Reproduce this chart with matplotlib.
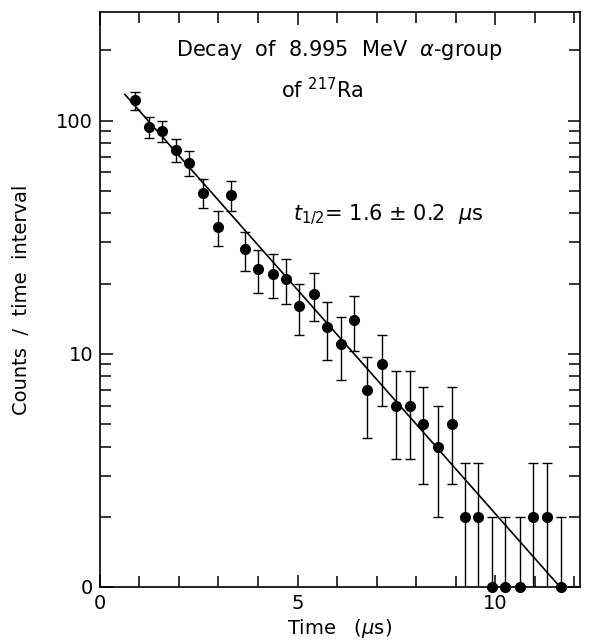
import numpy as np
import matplotlib
matplotlib.use("Agg")
import matplotlib.pyplot as plt
from matplotlib.ticker import FixedLocator, NullFormatter

# channel times (microseconds) and counts
times = [0.89, 1.23, 1.58, 1.92, 2.26, 2.62, 2.98, 3.32, 3.66, 4.00, 4.37,
         4.71, 5.04, 5.41, 5.75, 6.09, 6.43, 6.77, 7.13, 7.49, 7.85, 8.18,
         8.55, 8.91, 9.24, 9.58, 9.92, 10.25, 10.62, 10.96, 11.32, 11.66]
counts = [122, 94, 90, 75, 66, 49, 35, 48, 28, 23, 22,
          21, 16, 18, 13, 11, 14, 7, 9, 6, 6, 5,
          4, 5, 2, 2, 0, 0, 0, 2, 2, 0]

# fitted exponential decay
fit_start, fit_end = 0.63, 11.66
fit_amp = 171.0
fit_half_life = 1.57

plt.rcParams['font.family'] = ['DejaVu Sans']

fig = plt.figure(figsize=(5.93, 6.42), dpi=100)
ax = fig.add_axes([0.1686, 0.0857, 0.8094, 0.8956])

t = np.array(times)
n = np.array(counts, dtype=float)
nonzero = n > 0

# zero-count channels sit on the bottom axis (labelled "0")
y = np.where(nonzero, n, 1.0)
err_lo = np.where(nonzero, np.sqrt(n), 0.0)
err_hi = np.where(nonzero, np.sqrt(n), 1.0)

ax.errorbar(t[nonzero], y[nonzero], yerr=[err_lo[nonzero], err_hi[nonzero]],
            fmt='o', color='black', markersize=7, capsize=3.5, elinewidth=1.0,
            capthick=1.0)
ax.errorbar(t[~nonzero], y[~nonzero], yerr=[err_lo[~nonzero], err_hi[~nonzero]],
            fmt='o', color='black', markersize=7, capsize=3.5, elinewidth=1.0,
            capthick=1.0, clip_on=False)

tf = np.linspace(fit_start, fit_end, 50)
ax.plot(tf, fit_amp * 2 ** (-tf / fit_half_life), color='black', linewidth=1.2)

ax.set_yscale('log')
ax.set_xlim(0, 12.15)
ax.set_ylim(1, 292)

ax.set_xticks([0, 5, 10])
ax.set_xticklabels(['0', '5', '10'])
ax.xaxis.set_minor_locator(FixedLocator([1, 2, 3, 4, 6, 7, 8, 9, 11, 12]))

ax.set_yticks([1, 10, 100])
ax.set_yticklabels(['0', '10', '100'])
ax.yaxis.set_minor_locator(FixedLocator([2, 3, 4, 5, 6, 7, 8, 9,
                                         20, 30, 40, 50, 60, 70, 80, 90, 200]))
ax.yaxis.set_minor_formatter(NullFormatter())

ax.tick_params(which='both', direction='in', top=True, right=True,
               width=1.1, labelsize=14, pad=5)
ax.tick_params(which='major', length=9)
ax.tick_params(which='minor', length=8)
for s in ax.spines.values():
    s.set_linewidth(1.2)

ax.set_xlabel('Time   ($\\mu$s)', fontsize=14, labelpad=3)
ax.set_ylabel('Counts  /  time  interval', fontsize=14, labelpad=18)

ax.text(0.573, 0.922, 'Decay  of  8.995  MeV  $\\alpha$-group',
        transform=fig.transFigure, fontsize=15, ha='center', va='center')
ax.text(0.543, 0.860, 'of $^{217}$Ra', transform=fig.transFigure,
        fontsize=15, ha='center', va='center')
ax.text(0.494, 0.665, '$t_{1/2}$= 1.6 $\\pm$ 0.2  $\\mu$s',
        transform=fig.transFigure, fontsize=15, ha='left', va='center')

fig.savefig('out.png', dpi=100)
